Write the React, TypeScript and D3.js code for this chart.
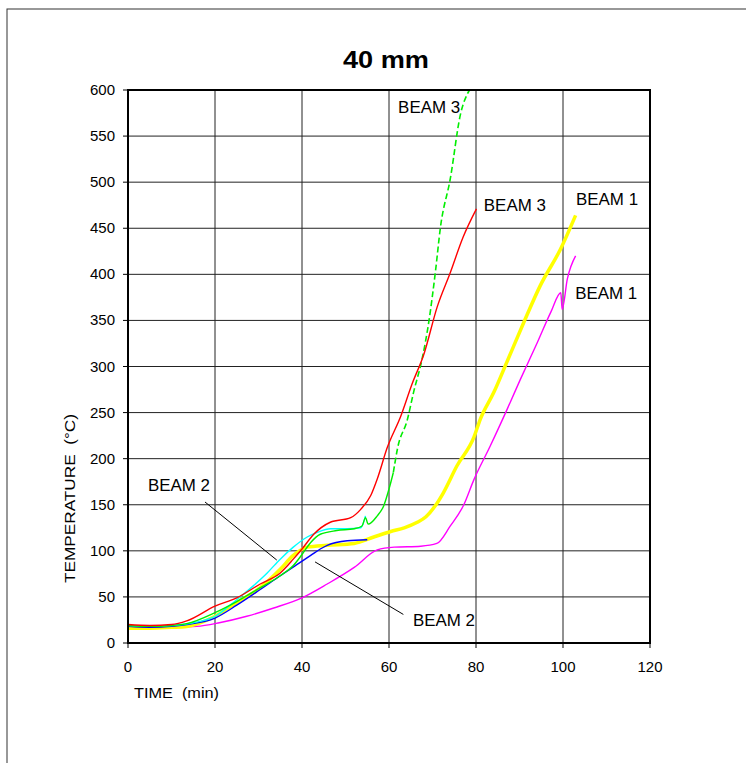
import React from "react";
import * as d3 from "d3";

// temperature readings, time in min / temperature in °C
const redTime = [0, 5, 10, 13.5, 20, 25, 30.4, 35, 38, 40, 42.7, 46.5, 51.2, 53.5, 55.8, 57.3, 59.6, 62.7, 65.3, 68, 71.1, 74.1, 77, 80.1];
const redTemp = [20, 19, 20, 24, 40, 49, 64, 76, 91, 102, 118, 131, 136, 145, 160, 178, 212, 246, 281, 313, 365, 402, 440, 471];

const greenTime = [0, 5, 10, 13.5, 20, 25, 30.4, 35, 38, 40, 42, 44.2, 48, 52, 53.8, 54.6, 55.2, 57.3, 58.8, 60, 61];
const greenTemp = [19, 18, 19, 21, 33, 45, 60, 73, 84, 96, 109, 118, 122, 124, 127, 136, 129, 138, 149, 167, 185];
const greenDashTime = [61, 62, 64.2, 65.7, 67.6, 69.2, 70.7, 71.8, 74.1, 76.4, 78.5];
const greenDashTemp = [185, 212, 242, 273, 308, 350, 404, 450, 504, 573, 600];

const cyanTime = [0, 5, 10, 15, 20, 25, 28.8, 32, 35, 38, 41.2, 43.5, 46.5, 50.4, 53.5, 54.6];
const cyanTemp = [19, 18, 19, 22, 29, 47, 62, 76, 91, 104, 115, 120, 124, 124, 125, 138];

const yellowTime = [0, 5, 10, 13.5, 20, 25, 30.4, 35, 38, 41.2, 45.8, 52, 56.5, 60.4, 63.5, 66.5, 68.5, 70.5, 72.5, 75.6, 79.5, 81, 84.1, 87.2, 91, 94.8, 99.5, 102.9];
const yellowTemp = [16, 16, 17, 18, 29, 44, 60, 80, 95, 104, 106, 108, 115, 121, 125, 131, 137, 148, 163, 192, 223, 243, 272, 306, 348, 388, 428, 464];

const blueTime = [0, 5, 10, 13.5, 20, 25, 30.4, 35, 38.8, 42, 44.2, 45.8, 50.4, 55];
const blueTemp = [18, 17, 18, 20, 27, 41, 58, 73, 85, 95, 102, 106, 111, 112];

const magentaTime = [0, 5, 10, 15.8, 21, 27.3, 33.5, 40, 45.8, 52, 57.3, 61.2, 67.3, 71, 74.1, 77.2, 79.5, 83.3, 87.2, 90.2, 94.1, 97.2, 99.5, 99.8, 101, 102.9];
const magentaTemp = [18, 17, 17, 18, 22, 29, 38, 49, 64, 82, 101, 104, 105, 108, 127, 150, 177, 214, 254, 286, 326, 359, 380, 362, 395, 420];

const xTicks = [0, 20, 40, 60, 80, 100, 120];
const yTicks = [0, 50, 100, 150, 200, 250, 300, 350, 400, 450, 500, 550, 600];

// annotation labels [time, temp, text]
const labels: [number, number, string][] = [
  [62.1, 575, "BEAM 3"],
  [81.8, 469, "BEAM 3"],
  [103, 475, "BEAM 1"],
  [102.8, 373, "BEAM 1"],
  [4.6, 165, "BEAM 2"],
  [65.5, 18, "BEAM 2"],
];
const leaders: [number, number, number, number][] = [
  [17.7, 153, 34.2, 90],
  [43, 88, 63.3, 31],
];

const W = 746, H = 763;
const left = 128, right = 650, top = 90, bottom = 643;
const font = "'Liberation Sans', Arial, sans-serif";

export default function App() {
  const x = d3.scaleLinear().domain([0, 120]).range([left, right]);
  const y = d3.scaleLinear().domain([0, 600]).range([bottom, top]);

  const mk = (ts: number[], vs: number[]) =>
    d3.line<number>().x((d, i) => x(ts[i])).y((d) => y(d)).curve(d3.curveMonotoneX)(vs) || "";

  const series = [
    { d: mk(magentaTime, magentaTemp), c: "#ff00ff", w: 1.4 },
    { d: mk(yellowTime, yellowTemp), c: "#ffff00", w: 3.5 },
    { d: mk(blueTime, blueTemp), c: "#0000ff", w: 1.4 },
    { d: mk(cyanTime, cyanTemp), c: "#00ffff", w: 1.4 },
    { d: mk(greenTime, greenTemp), c: "#00ee00", w: 1.4 },
    { d: mk(greenDashTime, greenDashTemp), c: "#00ee00", w: 1.6, dash: "6,3" },
    { d: mk(redTime, redTemp), c: "#ff0000", w: 1.4 },
  ];

  return (
    <div style={{ position: "absolute", left: 0, top: 0 }}>
      <svg width={W} height={H} style={{ display: "block", background: "#fff" }}>
        <rect x={7} y={9} width={W} height={H} fill="#fff" stroke="#333" strokeWidth={1} />
        <text x={343} y={68} fontFamily={font} fontWeight="bold" fontSize={24}
          textLength={86} lengthAdjust="spacingAndGlyphs">40 mm</text>

        {/* grid */}
        {yTicks.map((t) => (
          <line key={"gy" + t} x1={left} x2={right} y1={y(t)} y2={y(t)} stroke="#222" strokeWidth={1} />
        ))}
        {xTicks.map((t) => (
          <line key={"gx" + t} x1={x(t)} x2={x(t)} y1={top} y2={bottom} stroke="#222" strokeWidth={1} />
        ))}

        {/* ticks and labels */}
        {yTicks.map((t) => (
          <g key={"ty" + t}>
            <line x1={left - 5} x2={left} y1={y(t)} y2={y(t)} stroke="#000" />
            <text x={left - 13} y={y(t) + 5} textAnchor="end" fontFamily={font} fontSize={15}>{t}</text>
          </g>
        ))}
        {xTicks.map((t) => (
          <g key={"tx" + t}>
            <line x1={x(t)} x2={x(t)} y1={bottom} y2={bottom + 5} stroke="#000" />
            <text x={x(t)} y={bottom + 29} textAnchor="middle" fontFamily={font} fontSize={15}>{t}</text>
          </g>
        ))}

        {series.map((s, i) => (
          <path key={i} d={s.d} fill="none" stroke={s.c} strokeWidth={s.w} strokeDasharray={s.dash} />
        ))}

        {leaders.map((l, i) => (
          <line key={"ld" + i} x1={x(l[0])} y1={y(l[1])} x2={x(l[2])} y2={y(l[3])} stroke="#000" strokeWidth={1} />
        ))}
        {labels.map((l, i) => (
          <text key={"lb" + i} x={x(l[0])} y={y(l[1])} fontFamily={font} fontSize={16}
            textLength={62} lengthAdjust="spacingAndGlyphs">{l[2]}</text>
        ))}

        {/* plot frame */}
        <rect x={left} y={top} width={right - left} height={bottom - top} fill="none" stroke="#000" strokeWidth={2} />

        <text transform={`translate(75,583) rotate(-90)`} fontFamily={font} fontSize={15}
          textLength={169} lengthAdjust="spacingAndGlyphs" style={{ whiteSpace: "pre" }}>
          TEMPERATURE  (°C)
        </text>
        <text x={134} y={698} fontFamily={font} fontSize={15} textLength={85} lengthAdjust="spacingAndGlyphs"
          style={{ whiteSpace: "pre" }}>TIME  (min)</text>
      </svg>
    </div>
  );
}
